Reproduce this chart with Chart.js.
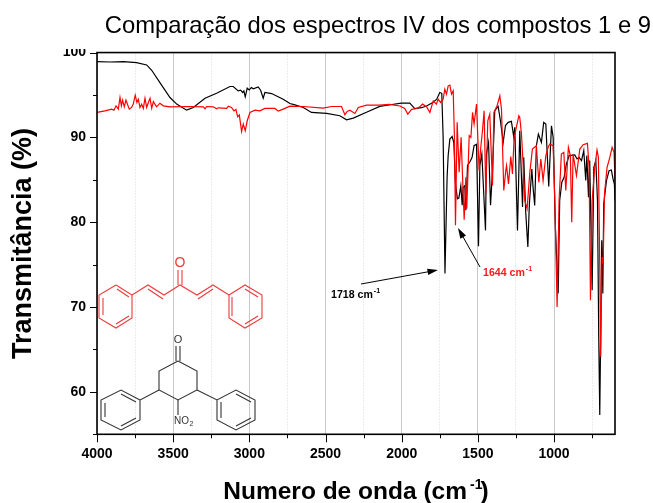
<!DOCTYPE html>
<html>
<head>
<meta charset="utf-8">
<style>
  html, body { margin: 0; padding: 0; background: #fff; }
  #wrap { width: 653px; height: 503px; }
</style>
<script src="https://cdn.jsdelivr.net/npm/chart.js@4/dist/chart.umd.min.js"></script>
</head>
<body>
<div id="wrap"><canvas id="myChart" width="653" height="503"></canvas></div>
<script>
var chartTitle = "Comparação dos espectros IV dos compostos 1 e 9";
var xAxisTitle = "Numero de onda (cm  )";
var yAxisTitle = "Transmitância (%)";
var xTicks = [4000, 3750, 3500, 3250, 3000, 2750, 2500, 2250, 2000, 1750, 1500, 1250, 1000, 750];
var yTicks = [55, 60, 65, 70, 75, 80, 85, 90, 95, 100];

var blackWave = [4000, 3915, 3827, 3740, 3674, 3641, 3587, 3521, 3477, 3412, 3368, 3291, 3215, 3127, 3106, 3073, 3057, 3044, 3036, 3027, 3014, 3001, 2987, 2974, 2942, 2926, 2909, 2898, 2854, 2778, 2734, 2701, 2646, 2592, 2493, 2406, 2362, 2318, 2220, 2144, 2075, 2002, 1947, 1914, 1870, 1837, 1796, 1770, 1750, 1737, 1728, 1716, 1702, 1695, 1684, 1669, 1658, 1647, 1634, 1625, 1612, 1603, 1597, 1586, 1579, 1568, 1553, 1538, 1525, 1509, 1496, 1487, 1474, 1450, 1444, 1430, 1417, 1404, 1389, 1367, 1352, 1334, 1319, 1301, 1280, 1264, 1258, 1240, 1225, 1207, 1199, 1186, 1172, 1162, 1146, 1137, 1127, 1116, 1103, 1083, 1068, 1054, 1035, 1017, 1006, 991, 973, 963, 949, 934, 919, 901, 864, 849, 836, 820, 805, 792, 785, 774, 766, 750, 739, 726, 715, 707, 700, 694, 687, 680, 674, 656, 639, 624, 613, 604, 600];
var blackT = [98.93, 98.89, 98.93, 98.81, 98.54, 97.91, 96.46, 94.7, 93.92, 93.21, 93.52, 94.62, 95.21, 96.0, 96.0, 95.48, 95.56, 95.29, 95.48, 94.78, 95.8, 95.6, 95.88, 95.72, 95.95, 95.56, 94.62, 95.29, 95.17, 94.5, 94.0, 93.84, 93.52, 92.94, 92.82, 92.55, 92.08, 92.27, 93.06, 93.65, 93.85, 94.04, 94.04, 93.4, 93.5, 93.7, 94.1, 94.5, 95.3, 95.2, 90.0, 73.95, 85.3, 87.85, 89.8, 90.1, 89.4, 84.5, 82.76, 82.84, 84.3, 82, 84.1, 84.3, 81.4, 86.7, 87.1, 87.66, 89.03, 89.2, 77.16, 86.7, 88.05, 79.04, 88.05, 89.4, 82, 86.1, 93.14, 93.65, 91.96, 89.4, 91.4, 91.77, 91.89, 90, 91.2, 79.04, 90.79, 81.8, 87.65, 81.19, 77.07, 82.17, 86.28, 83.93, 81.97, 89.02, 90.39, 89.41, 91.76, 91.57, 84.2, 91.37, 90, 79.23, 71.59, 82.56, 84.71, 85.3, 86.87, 87.85, 87.93, 87.46, 87.65, 87.26, 88.43, 84.91, 87.85, 82.95, 87.26, 71.98, 86.48, 87.26, 82.56, 66.89, 57.29, 66.89, 77.86, 71.59, 82.17, 84.91, 86.08, 86.16, 85.1, 84.5, 82.56];

var redWave = [4000, 3948, 3904, 3889, 3875, 3860, 3849, 3840, 3832, 3821, 3810, 3799, 3788, 3773, 3762, 3749, 3738, 3729, 3718, 3707, 3696, 3685, 3674, 3663, 3652, 3641, 3630, 3620, 3609, 3587, 3565, 3521, 3390, 3302, 3291, 3281, 3237, 3215, 3204, 3149, 3138, 3117, 3101, 3088, 3077, 3066, 3051, 3040, 3027, 3014, 2996, 2963, 2931, 2898, 2832, 2810, 2778, 2734, 2646, 2515, 2460, 2395, 2373, 2358, 2340, 2307, 2285, 2231, 2144, 2080, 2012, 1980, 1960, 1935, 1903, 1881, 1863, 1837, 1815, 1793, 1772, 1761, 1745, 1728, 1717, 1706, 1695, 1684, 1673, 1662, 1654, 1647, 1636, 1623, 1610, 1601, 1590, 1579, 1573, 1557, 1546, 1535, 1525, 1509, 1492, 1483, 1470, 1459, 1448, 1435, 1422, 1404, 1395, 1374, 1356, 1345, 1330, 1317, 1312, 1299, 1284, 1273, 1262, 1231, 1225, 1214, 1203, 1192, 1177, 1159, 1142, 1116, 1100, 1087, 1072, 1054, 1039, 1028, 1006, 995, 980, 967, 952, 936, 923, 906, 893, 884, 875, 853, 831, 809, 781, 770, 761, 750, 733, 718, 709, 700, 694, 685, 678, 669, 652, 634, 619, 606, 600];
var redT = [92.94, 93.13, 93.33, 93.21, 93.72, 93.33, 94.7, 93.72, 94.39, 93.6, 94.39, 93.84, 93.33, 93.53, 93.92, 94.98, 94.11, 94.5, 93.53, 93.92, 93.41, 94.62, 93.53, 94.11, 94.62, 93.45, 94.23, 93.92, 93.6, 94.03, 93.72, 93.6, 93.64, 93.6, 93.37, 93.64, 93.6, 93.37, 93.49, 93.41, 93.68, 93.53, 93.13, 93.29, 92.43, 92.66, 90.71, 91.57, 90.78, 91.96, 92.94, 93.21, 93.13, 93.41, 93.41, 93.09, 93.33, 93.68, 93.64, 93.45, 93.64, 93.64, 92.66, 93.06, 93.21, 92.82, 93.53, 93.8, 93.8, 93.9, 93.7, 93.4, 92.75, 93.3, 93.4, 93.61, 93.92, 93.61, 92.94, 94.31, 93.92, 94.51, 94.12, 94.51, 95.69, 95.1, 96.08, 96.16, 95.1, 95.49, 90, 79.63, 91.77, 85.89, 90, 85.5, 80.29, 85.3, 81.58, 90.2, 90, 92.94, 91.57, 93.92, 86.09, 88.44, 90.79, 93.14, 83.35, 91.96, 92.75, 84.33, 92.94, 93.73, 94.9, 93.34, 83.74, 86.09, 86.68, 84.52, 87.73, 85.7, 90, 92.55, 92.35, 90.39, 86.87, 82.56, 81.58, 85.89, 88.63, 89.02, 84.71, 87.46, 84.91, 87.85, 88.83, 89.22, 89.02, 82.56, 70.0, 82.56, 88.04, 88.24, 83.73, 88.83, 87.85, 80, 88.04, 85.5, 88.63, 89.14, 89.3, 86.48, 70.81, 82.56, 86.48, 88.51, 87.65, 74.72, 64.15, 75.9, 75.12, 83.34, 86.48, 87.65, 88.83, 88.24, 84.91];

function toPoints(wave, t) {
  return wave.map(function (w, i) { return { x: w, y: t[i] }; });
}

// the two molecule drawings, in image pixels
var RED_MOL = "#f03a3a";
var DARK_MOL = "#333333";
var redMolLines = [
  [116, 285, 132, 295, 132, 318, 116, 328, 99, 318, 99, 295, 116, 285],
  [132, 295, 148, 285, 164, 295, 180, 285, 197, 295, 213, 285, 229, 295],
  [229, 295, 245, 285, 262, 295, 262, 318, 245, 328, 229, 318, 229, 295],
  [117, 289, 129, 297], [129, 316, 116, 324], [103, 315, 103, 298],
  [148, 289, 163, 299], [198, 299, 213, 289],
  [178, 285, 178, 270], [182, 285, 182, 270],
  [232, 297, 232, 316], [245, 289, 258, 297], [258, 316, 245, 324]
];
var darkMolLines = [
  [178, 361, 197, 371, 197, 390, 178, 400, 159, 390, 159, 371, 178, 361],
  [159, 390, 140, 400, 140, 420, 121, 430, 101, 420, 101, 400, 121, 390, 140, 400],
  [197, 390, 217, 400, 236, 390, 255, 400, 255, 420, 236, 430, 217, 420, 217, 400],
  [176, 361, 176, 346], [180, 361, 180, 346], [178, 400, 178, 415],
  [105, 417, 105, 403], [121, 394, 136, 402], [136, 418, 121, 426],
  [236, 394, 251, 402], [251, 418, 236, 426], [221, 402, 221, 418]
];

function drawPoly(ctx, list, color) {
  ctx.strokeStyle = color;
  ctx.lineWidth = 1.1;
  list.forEach(function (p) {
    ctx.beginPath();
    ctx.moveTo(p[0], p[1]);
    for (var i = 2; i < p.length; i += 2) ctx.lineTo(p[i], p[i + 1]);
    ctx.stroke();
  });
}

function drawArrow(ctx, x1, y1, x2, y2) {
  var a = Math.atan2(y2 - y1, x2 - x1);
  ctx.strokeStyle = "#000";
  ctx.fillStyle = "#000";
  ctx.lineWidth = 1;
  ctx.beginPath();
  ctx.moveTo(x1, y1);
  ctx.lineTo(x2 - 6 * Math.cos(a), y2 - 6 * Math.sin(a));
  ctx.stroke();
  ctx.beginPath();
  ctx.moveTo(x2, y2);
  ctx.lineTo(x2 - 11 * Math.cos(a - 0.3), y2 - 11 * Math.sin(a - 0.3));
  ctx.lineTo(x2 - 11 * Math.cos(a + 0.3), y2 - 11 * Math.sin(a + 0.3));
  ctx.fill();
}

function drawCm(ctx, text, x, y, color) {
  ctx.fillStyle = color;
  ctx.textAlign = "left";
  ctx.textBaseline = "alphabetic";
  ctx.font = "bold 10.6px 'Liberation Sans'";
  ctx.fillText(text + " cm", x, y);
  var w = ctx.measureText(text + " cm").width;
  ctx.font = "bold 7px 'Liberation Sans'";
  ctx.fillText("-1", x + w + 1, y - 5);
}

var extras = {
  id: "extras",
  // title runs past the right edge of the plot
  afterLayout: function (chart) {
    chart.titleBlock.right = 651;
  },
  // minor ticks and the frame
  afterDraw: function (chart) {
    var ctx = chart.ctx, a = chart.chartArea;
    var sx = chart.scales.x, sy = chart.scales.y;
    ctx.save();
    // top of the 100 label is cut off in the original
    ctx.fillStyle = "#fff";
    ctx.fillRect(55, 40, 40, 9);
    ctx.strokeStyle = "#000";
    ctx.lineWidth = 1;
    xTicks.forEach(function (v) {
      var len = v % 500 == 0 ? 8 : 4;
      var p = Math.round(sx.getPixelForValue(v)) + 0.5;
      ctx.beginPath(); ctx.moveTo(p, a.bottom); ctx.lineTo(p, a.bottom + len); ctx.stroke();
    });
    yTicks.forEach(function (v) {
      var len = v % 10 == 0 ? 7 : 4;
      var p = Math.round(sy.getPixelForValue(v)) + 0.5;
      ctx.beginPath(); ctx.moveTo(a.left, p); ctx.lineTo(a.left - len, p); ctx.stroke();
    });
    ctx.lineWidth = 1.6;
    ctx.strokeRect(a.left, a.top, a.right - a.left, a.bottom - a.top);

    drawPoly(ctx, redMolLines, RED_MOL);
    drawPoly(ctx, darkMolLines, DARK_MOL);
    ctx.textAlign = "center";
    ctx.textBaseline = "middle";
    ctx.fillStyle = RED_MOL;
    ctx.font = "14px 'Liberation Sans'";
    ctx.fillText("O", 180, 263);
    ctx.fillStyle = DARK_MOL;
    ctx.font = "11px 'Liberation Sans'";
    ctx.fillText("O", 178, 340);
    ctx.textAlign = "left";
    ctx.font = "10px 'Liberation Sans'";
    ctx.fillText("NO", 174, 421);
    ctx.font = "7px 'Liberation Sans'";
    ctx.fillText("2", 189.5, 424);

    drawArrow(ctx, 361, 284, 438, 270);
    drawArrow(ctx, 480, 267, 458, 228);
    drawCm(ctx, "1718", 331, 297.5, "#000");
    drawCm(ctx, "1644", 483, 276, "#ff1a1a");

    // superscript of the x axis title
    ctx.fillStyle = "#000";
    ctx.textBaseline = "alphabetic";
    ctx.font = "bold 14px 'Liberation Sans'";
    ctx.fillText("-1", 470, 489);
    ctx.restore();
  }
};

var ctx = document.getElementById("myChart").getContext("2d");
var myChart = new Chart(ctx, {
  type: "line",
  data: {
    datasets: [{
      label: "Composto 1",
      data: toPoints(redWave, redT),
      borderColor: "#ff0000",
      borderWidth: 1.2,
      pointRadius: 0,
      tension: 0,
      order: 1
    }, {
      label: "Composto 9",
      data: toPoints(blackWave, blackT),
      borderColor: "#000000",
      borderWidth: 1.2,
      pointRadius: 0,
      tension: 0,
      order: 2
    }]
  },
  plugins: [extras],
  options: {
    responsive: false,
    animation: false,
    layout: { padding: { top: 0, right: 38, bottom: 0, left: 0 } },
    plugins: {
      legend: { display: false },
      tooltip: { enabled: false },
      title: {
        display: true,
        text: chartTitle,
        align: "end",
        color: "#000",
        font: { family: "'Liberation Sans'", size: 23.8, weight: "normal" },
        padding: { top: 12, bottom: 12 }
      }
    },
    scales: {
      x: {
        type: "linear",
        reverse: true,
        min: 600,
        max: 4000,
        afterBuildTicks: function (scale) {
          scale.ticks = xTicks.map(function (v) { return { value: v }; });
        },
        afterFit: function (scale) { scale.height = 68.7; },
        ticks: {
          maxRotation: 0,
          autoSkip: false,
          padding: 11,
          color: "#000",
          font: { family: "'Liberation Sans'", size: 14, weight: "bold" },
          callback: function (v) { return v % 500 == 0 ? String(v) : ""; }
        },
        grid: {
          drawTicks: false,
          color: function (c) { return c.tick && c.tick.value % 500 == 0 ? "#c8c8c8" : "#d8d8d8"; },
          lineWidth: 1
        },
        border: {
          display: false,
          dash: function (c) { return c.tick && c.tick.value % 500 == 0 ? [] : [1, 2]; }
        },
        title: {
          display: true,
          text: xAxisTitle,
          color: "#000",
          font: { family: "'Liberation Sans'", size: 24.5, weight: "bold" },
          padding: { top: 14, bottom: -4 }
        }
      },
      y: {
        min: 55,
        max: 100,
        afterBuildTicks: function (scale) {
          scale.ticks = yTicks.map(function (v) { return { value: v }; });
        },
        afterFit: function (scale) { scale.width = 97; },
        ticks: {
          autoSkip: false,
          padding: 11,
          color: "#000",
          font: { family: "'Liberation Sans'", size: 14, weight: "bold" },
          callback: function (v) { return v % 10 == 0 ? String(v) : ""; }
        },
        grid: { display: false, drawTicks: false },
        border: { display: false },
        title: {
          display: true,
          text: yAxisTitle,
          color: "#000",
          font: { family: "'Liberation Sans'", size: 27, weight: "bold" },
          padding: { top: 7, bottom: 0 }
        }
      }
    }
  }
});
</script>
</body>
</html>
